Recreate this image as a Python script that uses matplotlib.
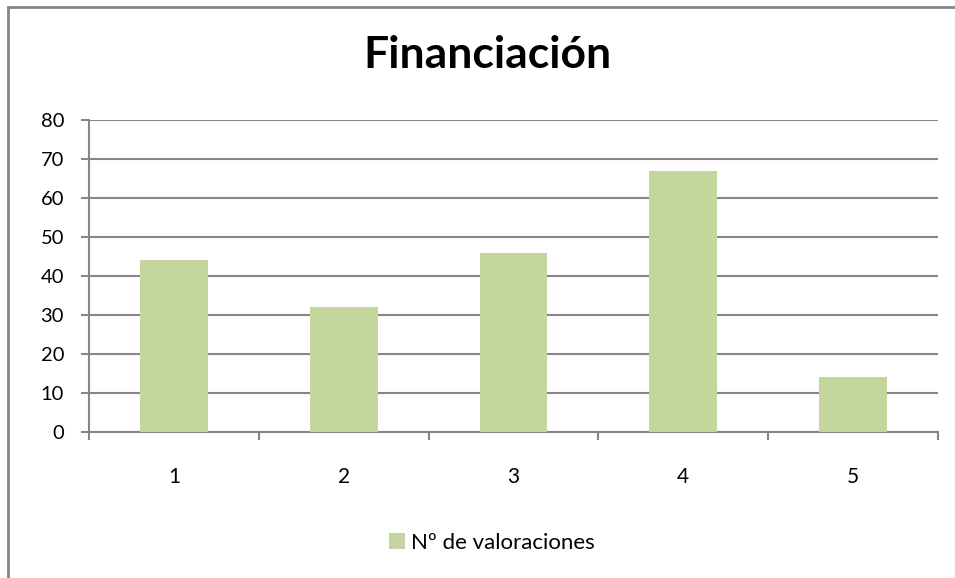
import matplotlib.pyplot as plt
from matplotlib.patches import Rectangle

categories = ['1', '2', '3', '4', '5']
values = [44, 32, 46, 67, 14]
series_name = 'Nº de valoraciones'
title = 'Financiación'

bar_color = '#C3D69B'
line_color = '#868686'

plt.rcParams['font.family'] = ['Lato', 'DejaVu Sans']

fig = plt.figure(figsize=(9.55, 5.78), dpi=100)
ax = fig.add_axes([89 / 955, 146 / 578, (938 - 89) / 955, (432 - 120) / 578])

x = range(1, len(categories) + 1)
ax.bar(x, values, width=0.4, color=bar_color, zorder=3, label=series_name)

ax.set_xlim(0.5, len(categories) + 0.5)
ax.set_ylim(0, 80)
ax.set_yticks(range(0, 81, 10))
ax.grid(axis='y', color=line_color, linewidth=1.5, zorder=0)

# boundary ticks without labels, labels at category centres
ax.set_xticks([i + 0.5 for i in range(len(categories) + 1)])
ax.set_xticklabels([])
ax.set_xticks(list(x), minor=True)
ax.set_xticklabels(categories, minor=True)
ax.tick_params(axis='x', which='major', length=6, width=1.5, color=line_color)
ax.tick_params(axis='x', which='minor', length=0, pad=25, labelsize=15)
ax.tick_params(axis='y', length=6, width=1.5, color=line_color, pad=12, labelsize=14.5)

for side in ['top', 'right']:
    ax.spines[side].set_visible(False)
for side in ['left', 'bottom']:
    ax.spines[side].set_color(line_color)
    ax.spines[side].set_linewidth(1.5)

fig.text(487 / 955, 1 - 55 / 578, title, ha='center', va='center',
         fontsize=32, fontweight='bold')

fig.legend(loc='center', bbox_to_anchor=(492 / 955, 1 - 543 / 578),
           frameon=False, fontsize=16, handlelength=0.7, handleheight=0.7,
           handletextpad=0.3)

# outer chart border (cropped on right and bottom)
fig.patches.append(Rectangle((7.5 / 955, -0.1), 1.2, 1 - 7.5 / 578 + 0.1,
                             transform=fig.transFigure, fill=False,
                             edgecolor=line_color, linewidth=2))

fig.savefig('out.png', dpi=100)
